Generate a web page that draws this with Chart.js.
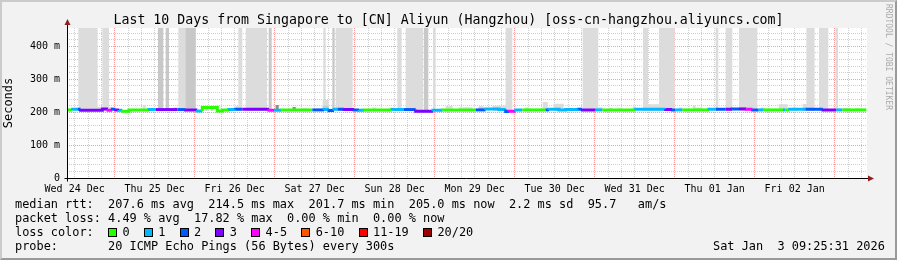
<!DOCTYPE html>
<html>
<head>
<meta charset="utf-8">
<script src="https://cdn.jsdelivr.net/npm/chart.js@4.4.1/dist/chart.umd.min.js"></script>
<style>
  html, body { margin: 0; padding: 0; background: #f2f2f2; }
  #wrap { position: relative; width: 897px; height: 260px; overflow: hidden; font-family: "DejaVu Sans Mono", monospace; color: #000; }
  #chart { position: absolute; left: 0; top: 0; }
  #frame { position: absolute; left: 0; top: 0; width: 897px; height: 260px; box-sizing: border-box; border: 2px solid; border-color: #cbcbcb #999 #999 #cbcbcb; pointer-events: none; }
  #title { position: absolute; left: 0; top: 12px; width: 897px; text-align: center; font-size: 13.25px; line-height: 15px; white-space: pre; }
  #legend { position: absolute; left: 15px; top: 197px; font-size: 11.9px; line-height: 14px; white-space: pre; }
  #stamp { position: absolute; left: 713px; top: 239px; font-size: 11.9px; line-height: 14px; white-space: pre; }
  #credit { position: absolute; left: 884px; top: 4px; writing-mode: vertical-rl; font-size: 8px; color: #aaa; white-space: pre; }
  .sw { position: relative; display: inline-block; width: 1ch; height: 0; }
  .sw i { position: absolute; left: 0; bottom: -1px; width: 9px; height: 9px; box-sizing: border-box; border: 1px solid #000; }
</style>
</head>
<body>
<div id="wrap">
  <canvas id="chart" width="897" height="260"></canvas>
  <div id="title">Last 10 Days from Singapore to [CN] Aliyun (Hangzhou) [oss-cn-hangzhou.aliyuncs.com]</div>
  <div id="legend"></div>
  <div id="stamp">Sat Jan  3 09:25:31 2026</div>
  <div id="credit">RRDTOOL / TOBI OETIKER</div>
  <div id="frame"></div>
</div>
<script>
// hours counted from Wed 24 Dec 00:00
const xMin = 9.7;
const xMax = 249.7;
const dataEnd = 249.5;

const dayLabels = ["Wed 24 Dec", "Thu 25 Dec", "Fri 26 Dec", "Sat 27 Dec", "Sun 28 Dec",
  "Mon 29 Dec", "Tue 30 Dec", "Wed 31 Dec", "Thu 01 Jan", "Fri 02 Jan"];
const yTickLabels = ["0", "100 m", "200 m", "300 m", "400 m"];

const lossLabels = ["0", "1", "2", "3", "4-5", "6-10", "11-19", "20/20"];
const lossColors = ["#26ff00", "#00b8ff", "#0059ff", "#7e00ff", "#ff00ff", "#ff5500", "#ff0000", "#a10000"];

// median rtt, one step per run (start hour, ms, loss class)
const medianStart = [10.0, 11.4, 12.8, 13.8, 20.3, 22.0, 23.3, 24.3, 25.3, 26.3,
  28.3, 34.3, 36.3, 42.8, 45.3, 48.8, 50.3, 54.8, 56.3, 58.3,
  60.3, 62.3, 70.3, 71.8, 74.1, 83.3, 86.8, 88.3, 89.8, 91.0,
  92.8, 95.8, 97.3, 98.8, 107.3, 110.8, 114.3, 119.5, 122.4, 132.3,
  135.3, 139.3, 141.3, 142.3, 144.3, 146.3, 153.3, 154.3, 157.3, 159.3,
  163.3, 164.3, 168.3, 170.3, 180.3, 184.3, 189.3, 191.3, 192.3, 194.3,
  202.3, 204.3, 207.3, 209.3, 211.3, 213.5, 215.4, 217.2, 218.7, 224.5,
  225.2, 226.5, 231.2, 236.5, 240.5, 242.3];
const medianRtt = [207, 207, 209, 209, 206, 210, 206, 209, 207, 206,
  203, 207, 208, 208, 208, 207, 204, 214, 204, 207,
  208, 209, 209, 206, 206, 207, 207, 208, 205, 209,
  209, 208, 207, 206, 207, 208, 208, 203, 206, 207,
  207, 210, 208, 202, 203, 207, 207, 207, 209, 207,
  208, 209, 207, 207, 207, 209, 209, 208, 207, 207,
  207, 209, 209, 209, 210, 210, 209, 207, 207, 207,
  207, 207, 209, 209, 207, 207];
const medianLoss = [0, 1, 2, 3, 3, 4, 2, 3, 1, 0,
  0, 1, 3, 2, 3, 1, 0, 0, 0, 1,
  2, 3, 4, 1, 0, 2, 1, 2, 1, 2,
  3, 2, 1, 0, 1, 2, 3, 1, 0, 2,
  1, 1, 2, 4, 1, 0, 2, 1, 1, 1,
  2, 3, 1, 0, 1, 1, 3, 2, 1, 0,
  1, 2, 3, 2, 3, 4, 2, 1, 0, 1,
  0, 1, 2, 3, 1, 0];

// smoke: top of each run in ms (runs up to the next start)
const smokeBase = 204;
const lightStart = [9.7, 13.1, 18.9, 19.8, 20.3, 22.3, 23.7, 32.4, 33.3, 41.7,
  42.9, 43.1, 48.3, 51.0, 52.2, 52.8, 53.7, 60.3, 61.1, 62.3,
  63.3, 69.7, 72.3, 73.2, 77.4, 78.3, 80.4, 82.2, 86.4, 86.6,
  87.3, 88.2, 90.3, 95.4, 101.4, 102.3, 106.2, 107.7, 108.8, 110.1,
  111.3, 116.6, 119.5, 120.3, 123.3, 125.4, 127.2, 131.4, 133.2, 134.7,
  137.4, 141.3, 143.3, 147.3, 148.2, 152.4, 153.9, 155.7, 158.7, 164.4,
  169.1, 170.4, 171.9, 173.4, 175.2, 176.4, 179.4, 180.3, 182.5, 184.0,
  187.3, 192.0, 193.2, 194.4, 197.4, 198.3, 200.4, 204.3, 205.1, 207.3,
  209.3, 211.3, 216.8, 217.8, 219.0, 223.2, 225.9, 227.4, 228.6, 230.4,
  231.5, 234.0, 235.3, 238.1, 240.3, 241.0, 242.4, 244.8, 246.3, 247.8];
const lightTop = [204, 480, 216, 204, 480, 216, 204, 222, 204, 215,
  204, 480, 204, 216, 204, 214, 204, 218, 480, 204,
  480, 204, 222, 204, 216, 204, 213, 204, 237, 480,
  237, 204, 480, 204, 214, 204, 214, 204, 480, 204,
  480, 204, 480, 204, 219, 204, 215, 204, 218, 204,
  220, 480, 204, 215, 204, 231, 204, 226, 204, 480,
  215, 204, 213, 204, 213, 204, 217, 204, 480, 224,
  480, 204, 214, 204, 221, 214, 204, 480, 204, 480,
  204, 480, 204, 214, 204, 224, 204, 214, 204, 225,
  480, 204, 480, 204, 480, 204, 213, 204, 212, 204];
const midStart = [9.7, 37.0, 38.6, 39.3, 40.3, 45.3, 48.3, 70.2, 71.1, 86.4, 88.2, 89.3, 90.0, 116.8, 118.1, 133.2, 134.7];
const midTop = [204, 480, 204, 480, 204, 480, 204, 480, 204, 220, 204, 480, 204, 480, 204, 215, 204];
const darkStart = [9.7, 72.3, 73.2, 77.4, 78.3];
const darkTop = [204, 222, 204, 216, 204];

function runsToPoints(starts, values, end) {
  const pts = starts.map((s, i) => ({ x: s, y: values[i] }));
  pts.push({ x: end, y: values[values.length - 1] });
  return pts;
}

// explicit step outline (two points at every run edge) for the filled smoke
function runsToSteps(starts, values, end) {
  const pts = [];
  starts.forEach((s, i) => {
    if (i > 0) pts.push({ x: s, y: values[i - 1] });
    pts.push({ x: s, y: values[i] });
  });
  pts.push({ x: end, y: values[values.length - 1] });
  return pts;
}

// legend row of loss colours
let lossRow = "loss color:  ";
lossLabels.forEach((l, i) => {
  lossRow += '<span class="sw"><i style="background:' + lossColors[i] + '"></i></span> ' + l + "  ";
});
document.getElementById("legend").innerHTML =
  "median rtt:  207.6 ms avg  214.5 ms max  201.7 ms min  205.0 ms now  2.2 ms sd  95.7   am/s\n" +
  "packet loss: 4.49 % avg  17.82 % max  0.00 % min  0.00 % now\n" +
  lossRow + "\n" +
  "probe:       20 ICMP Echo Pings (56 Bytes) every 300s";

const xGrid = [];
for (let h = 12; h <= xMax; h += 4) xGrid.push(h);
const yGrid = [];
for (let v = 0; v <= 440; v += 20) yGrid.push(v);

const majorGrid = "#ff9a9a";
const minorGrid = "#cfcfcf";

const rrdFrame = {
  id: "rrdFrame",
  beforeDraw(chart) {
    const { ctx, chartArea: a } = chart;
    ctx.save();
    ctx.fillStyle = "#fff";
    ctx.fillRect(a.left, a.top, a.right - a.left, a.bottom - a.top);
    ctx.restore();
  },
  afterDraw(chart) {
    const { ctx, chartArea: a } = chart;
    const x0 = Math.round(a.left) + 0.5;
    const y0 = Math.round(a.bottom) + 0.5;
    ctx.save();
    ctx.strokeStyle = "#000";
    ctx.lineWidth = 1;
    ctx.beginPath();
    ctx.moveTo(x0 - 3, y0);
    ctx.lineTo(a.right + 2, y0);
    ctx.moveTo(x0, y0 + 3);
    ctx.lineTo(x0, a.top - 3);
    ctx.stroke();
    ctx.fillStyle = "#902020";
    ctx.beginPath();
    ctx.moveTo(x0 - 3, a.top - 3);
    ctx.lineTo(x0 + 3, a.top - 3);
    ctx.lineTo(x0, a.top - 9);
    ctx.closePath();
    ctx.fill();
    ctx.beginPath();
    ctx.moveTo(a.right + 1, y0 - 3);
    ctx.lineTo(a.right + 1, y0 + 3);
    ctx.lineTo(a.right + 7, y0);
    ctx.closePath();
    ctx.fill();
    ctx.restore();
  }
};

Chart.defaults.font.family = "'DejaVu Sans Mono', monospace";
Chart.defaults.font.size = 10;
Chart.defaults.color = "#000";

const smokeSet = (label, starts, tops, color, order) => ({
  label,
  data: runsToSteps(starts, tops, dataEnd),
  borderWidth: 0,
  borderColor: "rgba(0,0,0,0)",
  backgroundColor: color,
  pointRadius: 0,
  tension: 0,
  fill: { value: smokeBase },
  order
});

new Chart(document.getElementById("chart"), {
  type: "line",
  data: {
    datasets: [
      {
        label: "median rtt",
        data: runsToPoints(medianStart, medianRtt, dataEnd),
        stepped: "after",
        borderWidth: 3,
        borderColor: lossColors[0],
        borderCapStyle: "butt",
        pointRadius: 0,
        fill: false,
        order: 0,
        segment: { borderColor: (c) => lossColors[medianLoss[c.p0DataIndex]] }
      },
      smokeSet("smoke dark", darkStart, darkTop, "#8c8c8c", 1),
      smokeSet("smoke mid", midStart, midTop, "#c8c8c8", 2),
      smokeSet("smoke", lightStart, lightTop, "#dcdcdc", 3)
    ]
  },
  options: {
    responsive: false,
    animation: false,
    events: [],
    layout: { padding: { left: 0, top: 28, right: 30, bottom: 0 } },
    plugins: { legend: { display: false }, tooltip: { enabled: false } },
    scales: {
      x: {
        type: "linear",
        min: xMin,
        max: xMax,
        afterBuildTicks: (s) => { s.ticks = xGrid.map((v) => ({ value: v })); },
        afterFit: (s) => { s.height = 82; },
        grid: {
          drawTicks: false,
          color: (c) => (c.tick && c.tick.value % 24 === 0 ? majorGrid : minorGrid)
        },
        border: { display: false, dash: [1, 1] },
        ticks: {
          autoSkip: false,
          maxRotation: 0,
          padding: 5,
          callback: (v) => (v % 24 === 12 ? dayLabels[(v - 12) / 24] : "")
        }
      },
      y: {
        min: 0,
        max: 456,
        afterBuildTicks: (s) => { s.ticks = yGrid.map((v) => ({ value: v })); },
        afterFit: (s) => { s.width = 67; },
        grid: {
          drawTicks: false,
          color: (c) => {
            const v = c.tick ? c.tick.value : 0;
            if (v === 0) return "rgba(0,0,0,0)";
            return v % 100 === 0 ? majorGrid : minorGrid;
          }
        },
        border: { display: false, dash: [1, 1] },
        ticks: {
          autoSkip: false,
          padding: 7,
          callback: (v) => (v % 100 === 0 ? yTickLabels[v / 100] : "")
        },
        title: {
          display: true,
          text: "Seconds",
          font: { size: 12 },
          padding: { top: 2, bottom: 0 }
        }
      }
    }
  },
  plugins: [rrdFrame]
});
</script>
</body>
</html>
